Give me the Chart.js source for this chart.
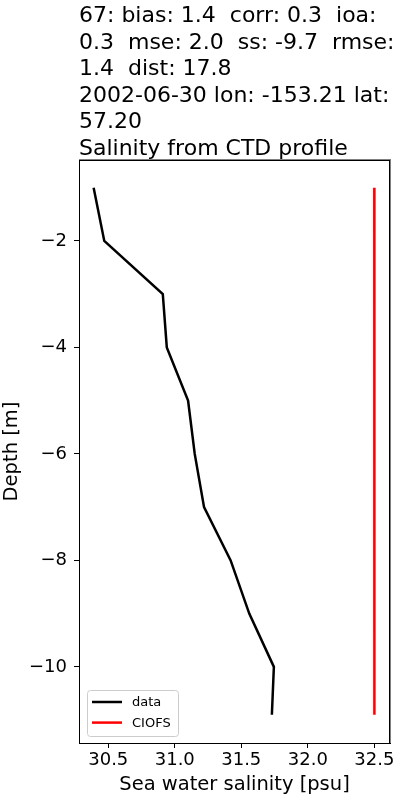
<!DOCTYPE html>
<html>
<head>
<meta charset="utf-8">
<script src="https://cdn.jsdelivr.net/npm/chart.js@4/dist/chart.umd.min.js"></script>
<style>
  body { margin: 0; background: #fff; }
  #wrap { width: 400px; height: 800px; }
</style>
</head>
<body>
<div id="wrap"><canvas id="myChart" width="400" height="800"></canvas></div>
<script>
// data
const depths = [-1, -2, -3, -4, -5, -6, -7, -8, -9, -10, -10.9];
const dataSalinity = [30.39, 30.47, 30.91, 30.94, 31.10, 31.15, 31.22, 31.42, 31.56, 31.745, 31.73];
const ciofsSalinity = [32.50, 32.50, 32.50, 32.50, 32.50, 32.50, 32.50, 32.502, 32.502, 32.502, 32.502];
const xTicks = [30.5, 31.0, 31.5, 32.0, 32.5];
const yTicks = [-2, -4, -6, -8, -10];
const titleLines = [
  "67: bias: 1.4  corr: 0.3  ioa:",
  "0.3  mse: 2.0  ss: -9.7  rmse:",
  "1.4  dist: 17.8",
  "2002-06-30 lon: -153.21 lat:",
  "57.20",
  "Salinity from CTD profile"
];
const legendLabels = ["data", "CIOFS"];
const seriesColors = ["#000000", "#ff0000"];

const FONT = "'DejaVu Sans', sans-serif";

// title lines, top/right frame and legend drawn on the canvas
const extras = {
  id: 'extras',
  afterDraw(chart) {
    const ctx = chart.ctx;
    const a = chart.chartArea;
    ctx.save();
    ctx.setLineDash([]);
    // frame top + right (left/bottom are the axis borders)
    const L = Math.round(a.left), R = Math.round(a.right);
    const T = Math.round(a.top), B = Math.round(a.bottom);
    ctx.fillStyle = 'rgba(0,0,0,0.5)';
    ctx.fillRect(L, T - 1, R - L + 1, 1);
    ctx.fillRect(R, T, 1, B - T);
    ctx.fillStyle = '#000';
    ctx.fillRect(L, T, R - L, 1);
    ctx.fillRect(R - 1, T, 1, B - T);
    // title
    ctx.font = "22px " + FONT;
    ctx.textBaseline = 'alphabetic';
    ctx.textAlign = 'left';
    titleLines.forEach((t, i) => ctx.fillText(t, 79, 22 + i * 26.6));
    // legend
    const lx = a.left + 8, ly = a.bottom - 53, lw = 91, lh = 46;
    ctx.fillStyle = 'rgba(255,255,255,0.8)';
    ctx.strokeStyle = '#cccccc';
    ctx.lineWidth = 1;
    ctx.beginPath();
    ctx.roundRect(lx + 0.5, ly + 0.5, lw, lh, 3);
    ctx.fill();
    ctx.stroke();
    ctx.font = "13px " + FONT;
    ctx.textBaseline = 'middle';
    legendLabels.forEach((lab, i) => {
      const y = ly + 12 + i * 20.6;
      ctx.strokeStyle = seriesColors[i];
      ctx.lineWidth = 2.5;
      ctx.beginPath();
      ctx.moveTo(lx + 5, y);
      ctx.lineTo(lx + 35, y);
      ctx.stroke();
      ctx.fillStyle = '#000';
      ctx.fillText(lab, lx + 45, y + 1);
    });
    ctx.restore();
  }
};

const fmtMinus = v => (v < 0 ? '\u2212' + Math.abs(v) : String(v));

var canvas = document.getElementById("myChart");
var myChart = new Chart(canvas, {
  type: 'line',
  data: {
    datasets: [{
      label: legendLabels[0],
      data: depths.map((d, i) => ({ x: dataSalinity[i], y: d })),
      borderColor: seriesColors[0],
      borderWidth: 2.5,
      pointRadius: 0,
      tension: 0
    }, {
      label: legendLabels[1],
      data: depths.map((d, i) => ({ x: ciofsSalinity[i], y: d })),
      borderColor: seriesColors[1],
      borderWidth: 2.5,
      pointRadius: 0,
      tension: 0
    }]
  },
  options: {
    responsive: false,
    animation: false,
    layout: { padding: { top: 160, right: 10, left: 0, bottom: 0 } },
    plugins: {
      legend: { display: false },
      tooltip: { enabled: false },
      title: { display: false }
    },
    scales: {
      x: {
        type: 'linear',
        min: 30.28,
        max: 32.618,
        afterFit: s => { s.height = 57; },
        afterBuildTicks: s => { s.ticks = xTicks.map(v => ({ value: v })); },
        ticks: {
          color: '#000',
          font: { family: FONT, size: 18 },
          padding: 2,
          maxRotation: 0,
          callback: v => v.toFixed(1)
        },
        grid: { drawOnChartArea: false, color: '#000', tickLength: 5 },
        border: { color: '#000' },
        title: {
          display: true,
          text: 'Sea water salinity [psu]',
          color: '#000',
          font: { family: FONT, size: 19.5 },
          padding: { top: 0, bottom: 3 }
        }
      },
      y: {
        type: 'linear',
        min: -11.43,
        max: -0.48,
        afterFit: s => { s.width = 79; },
        afterBuildTicks: s => { s.ticks = yTicks.map(v => ({ value: v })); },
        ticks: {
          color: '#000',
          font: { family: FONT, size: 18 },
          padding: 7,
          callback: v => fmtMinus(v)
        },
        grid: { drawOnChartArea: false, color: '#000', tickLength: 5 },
        border: { color: '#000' },
        title: {
          display: true,
          text: 'Depth [m]',
          color: '#000',
          font: { family: FONT, size: 19.5 },
          padding: { top: 0, bottom: 0 }
        }
      }
    }
  },
  plugins: [extras]
});
</script>
</body>
</html>
